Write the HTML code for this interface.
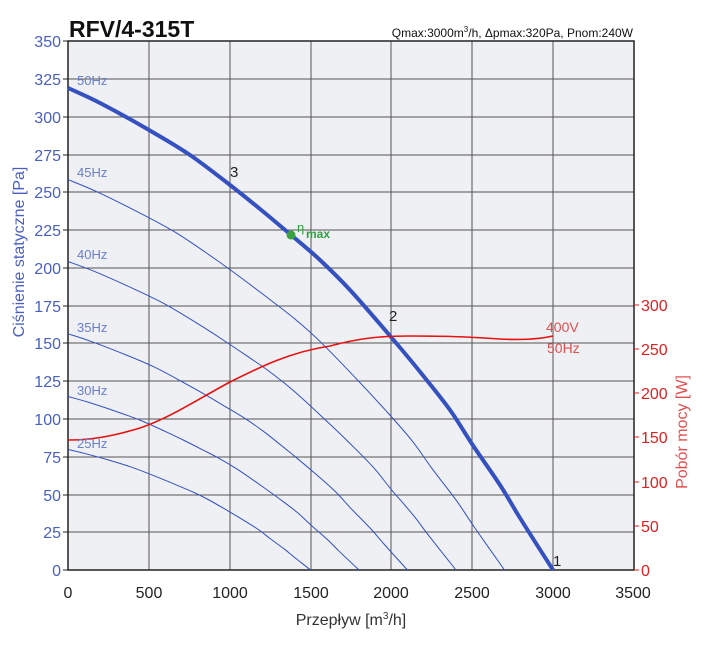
<!DOCTYPE html>
<html><head><meta charset="utf-8"><style>
body{margin:0;background:#fff}
svg{display:block;font-family:"Liberation Sans Narrow","Liberation Sans",sans-serif}
</style></head><body>
<svg id="s" width="719" height="649" viewBox="0 0 719 649" xmlns="http://www.w3.org/2000/svg">
<rect x="68" y="41" width="566" height="529" fill="#eef0f3"/>
<g stroke="#555" stroke-width="1">
<line x1="149" y1="41" x2="149" y2="570"/><line x1="230" y1="41" x2="230" y2="570"/>
<line x1="311" y1="41" x2="311" y2="570"/><line x1="391" y1="41" x2="391" y2="570"/>
<line x1="472" y1="41" x2="472" y2="570"/><line x1="553" y1="41" x2="553" y2="570"/>
<line x1="68" y1="79" x2="634" y2="79"/><line x1="68" y1="117" x2="634" y2="117"/>
<line x1="68" y1="155" x2="634" y2="155"/><line x1="68" y1="192" x2="634" y2="192"/>
<line x1="68" y1="230" x2="634" y2="230"/><line x1="68" y1="268" x2="634" y2="268"/>
<line x1="68" y1="306" x2="634" y2="306"/><line x1="68" y1="343" x2="634" y2="343"/>
<line x1="68" y1="381" x2="634" y2="381"/><line x1="68" y1="419" x2="634" y2="419"/>
<line x1="68" y1="457" x2="634" y2="457"/><line x1="68" y1="495" x2="634" y2="495"/>
<line x1="68" y1="532" x2="634" y2="532"/>
</g>
<rect x="68" y="41" width="566" height="529" fill="none" stroke="#222" stroke-width="1.5"/>
<g stroke="#222" stroke-width="1">
<line x1="63" y1="41" x2="68" y2="41"/><line x1="63" y1="79" x2="68" y2="79"/><line x1="63" y1="117" x2="68" y2="117"/><line x1="63" y1="155" x2="68" y2="155"/><line x1="63" y1="192" x2="68" y2="192"/><line x1="63" y1="230" x2="68" y2="230"/><line x1="63" y1="268" x2="68" y2="268"/><line x1="63" y1="306" x2="68" y2="306"/><line x1="63" y1="343" x2="68" y2="343"/><line x1="63" y1="381" x2="68" y2="381"/><line x1="63" y1="419" x2="68" y2="419"/><line x1="63" y1="457" x2="68" y2="457"/><line x1="63" y1="495" x2="68" y2="495"/><line x1="63" y1="532" x2="68" y2="532"/><line x1="63" y1="570" x2="68" y2="570"/>
</g>
<g stroke="#e02020" stroke-width="1">
<line x1="634" y1="305" x2="639" y2="305"/><line x1="634" y1="349" x2="639" y2="349"/><line x1="634" y1="393" x2="639" y2="393"/><line x1="634" y1="437" x2="639" y2="437"/><line x1="634" y1="482" x2="639" y2="482"/><line x1="634" y1="526" x2="639" y2="526"/><line x1="634" y1="570" x2="639" y2="570"/>
</g>
<g id="curves"></g>
<path d="M68,440 C90,440 110,437 140,428 C170,418 200,398 230,382 C260,367 290,352 330,346 C360,338 380,336 410,336 C450,336 470,337 500,339 C520,340 540,339 553,336" fill="none" stroke="#e81010" stroke-width="1.6"/>
<circle cx="291" cy="235" r="4.5" fill="#3aa040"/>
<text x="297" y="232" font-size="13" fill="#2fa040">η</text><text x="306" y="238" font-size="12" font-weight="bold" fill="#2fa040">max</text>
<g font-size="13" fill="#6a7fcc">
<text x="77" y="85">50Hz</text><text x="77" y="177">45Hz</text><text x="77" y="259">40Hz</text><text x="77" y="332">35Hz</text><text x="77" y="395">30Hz</text><text x="77" y="448">25Hz</text>
</g>
<g font-size="15" fill="#222">
<text x="230" y="177">3</text><text x="389" y="321">2</text><text x="553" y="566">1</text>
</g>
<text x="546" y="332" font-size="14" fill="#e05050">400V</text>
<text x="547" y="353" font-size="14" fill="#e05050">50Hz</text>
<g font-size="16" fill="#4a5fc1" text-anchor="end">
<text x="61" y="47">350</text><text x="61" y="85">325</text><text x="61" y="123">300</text><text x="61" y="161">275</text><text x="61" y="198">250</text><text x="61" y="236">225</text><text x="61" y="274">200</text><text x="61" y="312">175</text><text x="61" y="349">150</text><text x="61" y="387">125</text><text x="61" y="425">100</text><text x="61" y="463">75</text><text x="61" y="501">50</text><text x="61" y="538">25</text><text x="61" y="576">0</text>
</g>
<g font-size="16" fill="#e02020">
<text x="641" y="311">300</text><text x="641" y="355">250</text><text x="641" y="399">200</text><text x="641" y="443">150</text><text x="641" y="488">100</text><text x="641" y="532">50</text><text x="641" y="576">0</text>
</g>
<g font-size="16" fill="#222" text-anchor="middle">
<text x="68" y="598">0</text><text x="149" y="598">500</text><text x="230" y="598">1000</text><text x="311" y="598">1500</text><text x="391" y="598">2000</text><text x="472" y="598">2500</text><text x="553" y="598">3000</text><text x="633" y="598">3500</text>
</g>
<text x="351" y="625" font-size="16" fill="#333" text-anchor="middle">Przepływ [m<tspan font-size="10" dy="-6">3</tspan><tspan dy="6">/h]</tspan></text>
<text transform="translate(24,252) rotate(-90)" font-size="16" fill="#4a5fc1" text-anchor="middle">Ciśnienie statyczne [Pa]</text>
<text transform="translate(687,432) rotate(-90)" font-size="16" fill="#e05050" text-anchor="middle">Pobór mocy [W]</text>
<text x="69" y="37" font-size="23" font-weight="bold" fill="#111">RFV/4-315T</text>
<text x="633" y="37" font-size="12" fill="#111" text-anchor="end">Qmax:3000m<tspan font-size="8" dy="-5">3</tspan><tspan dy="5">/h, Δpmax:320Pa, Pnom:240W</tspan></text>
</svg>
<script>
(function(){
var P=[[68,88],[100,103],[149,130],[190,155],[230,185],[260,209],[291,235],[320,260],[350,290],[391,337],[421,373],[450,410],[472,444],[500,485],[520,518],[553,570]];
function path(r){
 var q=P.map(function(p){return [68+(p[0]-68)*r,570-(570-p[1])*r*r];});
 var d="M"+q[0][0].toFixed(1)+","+q[0][1].toFixed(1);
 for(var i=0;i<q.length-1;i++){
  var p0=q[Math.max(i-1,0)],p1=q[i],p2=q[i+1],p3=q[Math.min(i+2,q.length-1)];
  var c1=[p1[0]+(p2[0]-p0[0])/6,p1[1]+(p2[1]-p0[1])/6];
  var c2=[p2[0]-(p3[0]-p1[0])/6,p2[1]-(p3[1]-p1[1])/6];
  d+=" C"+c1[0].toFixed(1)+","+c1[1].toFixed(1)+" "+c2[0].toFixed(1)+","+c2[1].toFixed(1)+" "+p2[0].toFixed(1)+","+p2[1].toFixed(1);
 }
 return d;
}
var g=document.getElementById("curves"),ns="http://www.w3.org/2000/svg";
[0.9,0.8,0.7,0.6,0.5,1].forEach(function(r){
 var e=document.createElementNS(ns,"path");
 e.setAttribute("d",path(r));e.setAttribute("fill","none");
 e.setAttribute("stroke","#3550c0");e.setAttribute("stroke-width",r==1?"4":"1");
 g.appendChild(e);
});
})();
</script>
</body></html>
